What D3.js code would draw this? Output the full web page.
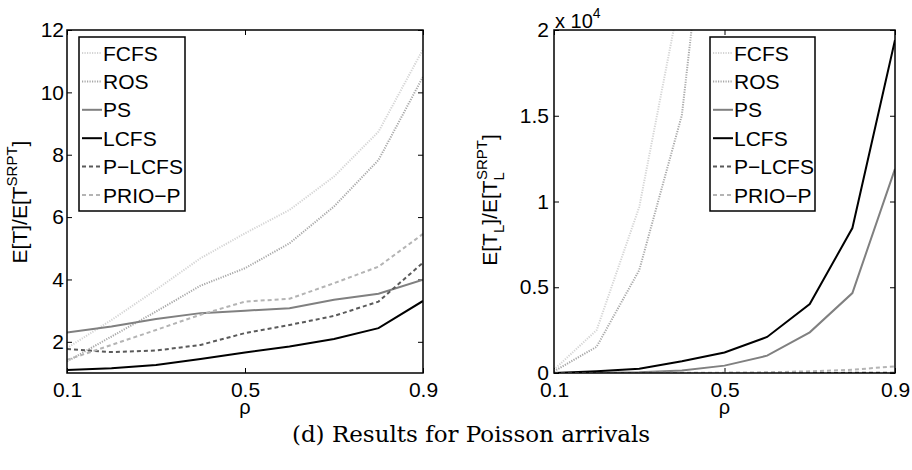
<!DOCTYPE html>
<html>
<head>
<meta charset="utf-8">
<script src="https://cdn.jsdelivr.net/npm/d3@7"></script>
<style>
  html, body { margin: 0; padding: 0; background: #fff; }
  svg { display: block; }
  .tick text { font-family: "Liberation Sans", Arial, sans-serif; font-size: 21px; fill: #000; }
  .tick line { stroke: #000; stroke-width: 1; }
</style>
</head>
<body>
<div id="chart"></div>
<script>
// load values (x axis)
const rho = [0.1, 0.2, 0.3, 0.4, 0.5, 0.6, 0.7, 0.8, 0.9];

const policies = ['FCFS', 'ROS', 'PS', 'LCFS', 'P\u2212LCFS', 'PRIO\u2212P'];

// left panel: E[T]/E[T^SRPT]
const leftFCFS   = [1.80, 2.70, 3.67, 4.68, 5.48, 6.23, 7.30, 8.74, 11.38];
const leftROS    = [1.37, 2.17, 2.97, 3.80, 4.36, 5.16, 6.34, 7.83, 10.50];
const leftPS     = [2.30, 2.49, 2.73, 2.92, 3.00, 3.08, 3.35, 3.54, 3.99];
const leftLCFS   = [1.10, 1.15, 1.26, 1.45, 1.66, 1.85, 2.09, 2.44, 3.31];
const leftPLCFS  = [1.77, 1.67, 1.72, 1.90, 2.28, 2.54, 2.83, 3.29, 4.54];
const leftPRIOP  = [1.42, 1.90, 2.38, 2.87, 3.29, 3.38, 3.88, 4.41, 5.46];

// right panel: E[T_L]/E[T_L^SRPT]
const rightFCFS  = [190, 2500, 9680, 22500, 45000, 80000, 150000, 300000, 800000];
const rightROS   = [100, 1530, 6000, 15040, 37000, 70000, 130000, 260000, 700000];
const rightPS    = [2, 10, 40, 140, 430, 1010, 2370, 4660, 11900];
const rightLCFS  = [5, 100, 250, 680, 1200, 2100, 4020, 8450, 19420];
const rightPLCFS = [1, 1.5, 2, 2.5, 3, 4, 5, 8, 15];
const rightPRIOP = [1, 3, 6, 12, 20, 40, 100, 190, 390];

const xTicks = [0.1, 0.5, 0.9];
const leftYTicks = [2, 4, 6, 8, 10, 12];
const rightYTicks = [0, 5000, 10000, 15000, 20000];
const rightYTickLabels = ['0', '0.5', '1', '1.5', '2'];

const styles = [
  { color: '#d4d4d4', dash: '1.2,1.3' },
  { color: '#a8a8a8', dash: '1.2,1.3' },
  { color: '#808080', dash: null },
  { color: '#000000', dash: null },
  { color: '#5a5a5a', dash: '4,3' },
  { color: '#b4b4b4', dash: '4,3' },
];

const W = 912, H = 470;
const svg = d3.select('#chart').append('svg').attr('width', W).attr('height', H);
const FONT = '"Liberation Sans", Arial, sans-serif';

function drawPanel(p) {
  const g = svg.append('g').attr('transform', `translate(${p.left},${p.top})`);
  const w = p.width, h = p.height;

  const x = d3.scaleLinear().domain([0.1, 0.9]).range([0, w]);
  const y = d3.scaleLinear().domain(p.yDomain).range([h, 0]);

  // axes with inward ticks on all four sides
  const ax = g.append('g').attr('class', 'axes');
  ax.append('g').attr('transform', `translate(0,${h})`)
    .call(d3.axisBottom(x).tickValues(xTicks).tickSize(-5).tickPadding(9).tickFormat(d3.format('.1f')));
  ax.append('g')
    .call(d3.axisTop(x).tickValues(xTicks).tickSize(-5).tickFormat(''));
  ax.append('g')
    .call(d3.axisLeft(y).tickValues(p.yTicks).tickSize(-5).tickPadding(p.yPad)
      .tickFormat((d, i) => p.yLabels[i]));
  ax.append('g').attr('transform', `translate(${w},0)`)
    .call(d3.axisRight(y).tickValues(p.yTicks).tickSize(-5).tickFormat(''));
  ax.selectAll('.domain').remove();

  const clipId = 'clip-' + p.id;
  g.append('clipPath').attr('id', clipId).append('rect').attr('width', w).attr('height', h);

  const line = d3.line().x((d, i) => x(rho[i])).y(d => y(d));
  const lines = g.append('g').attr('clip-path', `url(#${clipId})`);
  p.series.forEach((vals, k) => {
    lines.append('path')
      .datum(vals)
      .attr('d', line)
      .attr('fill', 'none')
      .attr('stroke', styles[k].color)
      .attr('stroke-width', 2)
      .attr('stroke-dasharray', styles[k].dash);
  });

  g.append('rect').attr('width', w).attr('height', h)
    .attr('fill', 'none').attr('stroke', '#000').attr('stroke-width', 1.5);

  // legend
  const lg = svg.append('g').attr('transform', `translate(${p.legX},${p.legY})`);
  lg.append('rect').attr('width', p.legW).attr('height', 174)
    .attr('fill', '#fff').attr('stroke', '#000').attr('stroke-width', 1.5);
  policies.forEach((name, k) => {
    const yy = 16 + k * 28.4;
    lg.append('line').attr('x1', 3).attr('x2', 23).attr('y1', yy).attr('y2', yy)
      .attr('stroke', styles[k].color).attr('stroke-width', 2)
      .attr('stroke-dasharray', styles[k].dash);
    lg.append('text').attr('x', 24).attr('y', yy).attr('dy', '0.36em')
      .attr('font-family', FONT).attr('font-size', 21).text(name);
  });

  // x label
  svg.append('text')
    .attr('x', p.left + x(0.5)).attr('y', 414)
    .attr('text-anchor', 'middle')
    .attr('font-family', FONT).attr('font-size', 20)
    .text('\u03c1');

  return { g, x, y };
}

drawPanel({
  id: 'l', left: 67, top: 30, width: 356, height: 343,
  yDomain: [1, 12], yTicks: leftYTicks, yLabels: leftYTicks.map(String), yPad: 3,
  series: [leftFCFS, leftROS, leftPS, leftLCFS, leftPLCFS, leftPRIOP],
  legX: 79, legY: 37, legW: 106,
});

drawPanel({
  id: 'r', left: 554, top: 30, width: 341, height: 343,
  yDomain: [0, 20000], yTicks: rightYTicks, yLabels: rightYTickLabels, yPad: 5,
  series: [rightFCFS, rightROS, rightPS, rightLCFS, rightPLCFS, rightPRIOP],
  legX: 710, legY: 37, legW: 105,
});

// y labels
const yl = svg.append('text')
  .attr('transform', 'translate(27,202) rotate(-90)')
  .attr('text-anchor', 'middle')
  .attr('font-family', FONT).attr('font-size', 21);
yl.append('tspan').text('E[T]/E[T');
yl.append('tspan').attr('font-size', 15).attr('dy', -10).text('SRPT');
yl.append('tspan').attr('dy', 10).text(']');

const yr = svg.append('text')
  .attr('transform', 'translate(497,200) rotate(-90)')
  .attr('text-anchor', 'middle')
  .attr('font-family', FONT).attr('font-size', 21);
yr.append('tspan').text('E[T');
yr.append('tspan').attr('font-size', 15).attr('dy', 7).text('L');
yr.append('tspan').attr('dy', -7).text(']/E[T');
yr.append('tspan').attr('font-size', 15).attr('dy', 7).text('L');
yr.append('tspan').attr('font-size', 15).attr('dx', -8).attr('dy', -17).text('SRPT');
yr.append('tspan').attr('dy', 10).text(']');

// exponent marker of right panel
const ex = svg.append('text').attr('x', 555).attr('y', 28)
  .attr('font-family', FONT).attr('font-size', 20);
ex.append('tspan').text('x 10');
ex.append('tspan').attr('font-size', 14).attr('dy', -10).text('4');

// caption
svg.append('text')
  .attr('x', 471).attr('y', 442)
  .attr('text-anchor', 'middle')
  .attr('font-family', '"DejaVu Serif", "Liberation Serif", serif')
  .attr('font-size', 23)
  .text('(d) Results for Poisson arrivals');
</script>
</body>
</html>
